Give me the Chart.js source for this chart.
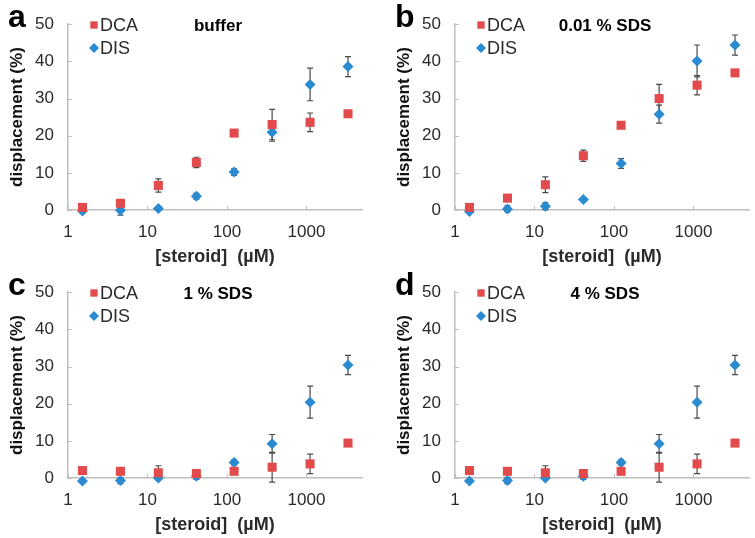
<!DOCTYPE html>
<html>
<head>
<meta charset="utf-8">
<title>displacement vs steroid</title>
<script src="https://cdn.jsdelivr.net/npm/chart.js"></script>
<style>
  html, body { margin: 0; padding: 0; background: #fff; }
  body { width: 755px; height: 538px; position: relative; overflow: hidden; }
  canvas { position: absolute; }
</style>
</head>
<body>
<canvas id="pa" width="377" height="268" style="left:0;top:0"></canvas>
<canvas id="pb" width="377" height="268" style="left:387px;top:0"></canvas>
<canvas id="pc" width="377" height="268" style="left:0;top:268px"></canvas>
<canvas id="pd" width="377" height="268" style="left:387px;top:268px"></canvas>
<script>
// steroid concentrations (µM), 3-fold dilution series
const dose = [1.52, 4.57, 13.7, 41.2, 123, 370, 1111, 3333];
const xTickValues = [1, 10, 100, 1000];
const seriesNames = ["DCA", "DIS"];

// panel a: buffer
const aDCA = [0.7, 1.8, 6.6, 12.8, 20.7, 23.0, 23.6, 25.9];
const aDCAerr = [0.3, 0.4, 1.8, 1.4, 0.5, 4.1, 2.5, 0.7];
const aDIS = [-0.3, -0.1, 0.4, 3.7, 10.2, 20.9, 33.8, 38.6];
const aDISerr = [0.4, 1.3, 0.5, 0.8, 0.9, 2.4, 4.4, 2.7];

// panel b: 0.01 % SDS
const bDCA = [0.7, 3.2, 6.8, 14.6, 22.8, 30.0, 33.6, 36.9];
const bDCAerr = [0.3, 0.8, 2.1, 1.5, 0.4, 3.8, 2.6, 0.8];
const bDIS = [-0.4, 0.3, 1.0, 2.8, 12.5, 25.8, 40.1, 44.4];
const bDISerr = [0.3, 0.8, 0.9, 0.5, 1.3, 2.4, 4.3, 2.7];

// panel c: 1 % SDS
const cDCA = [2.0, 1.8, 1.4, 1.2, 1.8, 2.9, 3.8, 9.4];
const cDCAerr = [0.4, 0.5, 1.9, 0.8, 0.5, 4.0, 2.6, 0.7];
const cDIS = [-0.8, -0.7, 0.0, 0.5, 4.2, 9.2, 20.4, 30.4];
const cDISerr = [0.3, 0.8, 0.4, 0.9, 0.7, 2.5, 4.3, 2.6];

// panel d: 4 % SDS
const dDCA = [2.0, 1.8, 1.4, 1.2, 1.8, 2.9, 3.8, 9.4];
const dDCAerr = [0.4, 0.5, 1.9, 0.8, 0.5, 4.0, 2.6, 0.7];
const dDIS = [-0.8, -0.7, 0.0, 0.5, 4.2, 9.2, 20.4, 30.4];
const dDISerr = [0.3, 0.8, 0.4, 0.9, 0.7, 2.5, 4.3, 2.6];

const RED = "#E24A4B";
const BLUE = "#2A8BD0";
const AXIS = "#BFBFBF";
const TEXT = "#2a2a2a";
const FONT = "'Liberation Sans', Arial, sans-serif";

// error bars drawn behind the markers
const errorBars = {
  id: "errorBars",
  beforeDatasetsDraw(chart) {
    const ctx = chart.ctx;
    const xs = chart.scales.x, ys = chart.scales.y;
    ctx.save();
    ctx.strokeStyle = "#4a4a4a";
    ctx.lineWidth = 1.2;
    chart.data.datasets.forEach(ds => {
      ds.data.forEach((p, i) => {
        const e = ds.errors[i];
        const x = xs.getPixelForValue(p.x);
        const y1 = ys.getPixelForValue(p.y + e);
        const y2 = ys.getPixelForValue(p.y - e);
        ctx.beginPath();
        ctx.moveTo(x, y1); ctx.lineTo(x, y2);
        ctx.moveTo(x - 3, y1); ctx.lineTo(x + 3, y1);
        ctx.moveTo(x - 3, y2); ctx.lineTo(x + 3, y2);
        ctx.stroke();
      });
    });
    ctx.restore();
  }
};

// panel letter, condition label, legend and small inside tick marks
const panelDecor = {
  id: "panelDecor",
  afterDraw(chart, args, opts) {
    const ctx = chart.ctx;
    const area = chart.chartArea;
    const xs = chart.scales.x, ys = chart.scales.y;
    ctx.save();
    // tick marks
    ctx.strokeStyle = AXIS;
    ctx.lineWidth = 1;
    ys.ticks.forEach(t => {
      const y = Math.round(ys.getPixelForValue(t.value)) + 0.5;
      ctx.beginPath(); ctx.moveTo(area.left, y); ctx.lineTo(area.left + 4, y); ctx.stroke();
    });
    xs.ticks.forEach(t => {
      const x = Math.round(xs.getPixelForValue(t.value)) + 0.5;
      ctx.beginPath(); ctx.moveTo(x, area.bottom); ctx.lineTo(x, area.bottom - 4); ctx.stroke();
    });
    // letter
    ctx.fillStyle = "#000";
    ctx.textBaseline = "alphabetic";
    ctx.textAlign = "left";
    ctx.font = "bold 32px " + FONT;
    ctx.fillText(opts.letter, 8, 27);
    // condition
    ctx.font = "bold 17px " + FONT;
    ctx.textAlign = "center";
    ctx.textBaseline = "middle";
    ctx.fillText(opts.condition, 218, 26);
    // legend
    ctx.font = "18px " + FONT;
    ctx.textAlign = "left";
    chart.data.datasets.forEach((ds, i) => {
      const cy = 25 + i * 23;
      ctx.fillStyle = ds.backgroundColor;
      Chart.helpers.drawPoint(ctx, {
        pointStyle: ds.pointStyle,
        radius: ds.pointStyle === "rect" ? 5.2 : 5,
        rotation: 0,
        borderWidth: 0
      }, 94, cy);
      ctx.fillStyle = TEXT;
      ctx.fillText(ds.label, 100, cy + 1);
    });
    ctx.restore();
  }
};

function makePanel(id, letter, condition, dca, dcaErr, dis, disErr) {
  const toPts = arr => arr.map((v, i) => ({ x: dose[i], y: v }));
  return new Chart(document.getElementById(id), {
    type: "scatter",
    data: {
      datasets: [
        {
          label: seriesNames[0],
          data: toPts(dca),
          errors: dcaErr,
          pointStyle: "rect",
          pointRadius: 6.4,
          pointHoverRadius: 6.4,
          backgroundColor: RED,
          borderColor: RED,
          borderWidth: 0,
          clip: false
        },
        {
          label: seriesNames[1],
          data: toPts(dis),
          errors: disErr,
          pointStyle: "rectRot",
          pointRadius: 5.5,
          pointHoverRadius: 5.5,
          backgroundColor: BLUE,
          borderColor: BLUE,
          borderWidth: 0,
          clip: false
        }
      ]
    },
    options: {
      responsive: false,
      animation: false,
      devicePixelRatio: 1,
      layout: { padding: { left: 0, top: 19, right: 15, bottom: 0 } },
      plugins: {
        legend: { display: false },
        tooltip: { enabled: false },
        panelDecor: { letter, condition }
      },
      scales: {
        x: {
          type: "logarithmic",
          min: 1,
          max: 5000,
          afterFit: s => { s.height = 58; },
          afterBuildTicks: s => { s.ticks = xTickValues.map(v => ({ value: v })); },
          grid: { display: true, drawOnChartArea: false, drawTicks: false, color: AXIS },
          border: { display: true, color: AXIS, width: 1.5 },
          ticks: {
            color: TEXT,
            padding: 12,
            font: { family: FONT, size: 17 },
            autoSkip: false,
            maxRotation: 0,
            callback: v => String(v)
          },
          title: {
            display: true,
            text: "[steroid]  (µM)",
            color: TEXT,
            padding: { top: 0, bottom: 0 },
            font: { family: FONT, size: 18, weight: "bold" }
          }
        },
        y: {
          min: 0,
          max: 50,
          afterFit: s => { s.width = 68; },
          grid: { display: true, drawOnChartArea: false, drawTicks: false, color: AXIS },
          border: { display: true, color: AXIS, width: 1.5 },
          ticks: {
            stepSize: 10,
            color: TEXT,
            padding: 14,
            font: { family: FONT, size: 17 }
          },
          title: {
            display: true,
            text: "displacement (%)",
            color: "#111",
            padding: { top: 7, bottom: 0 },
            font: { family: FONT, size: 17, weight: "bold" }
          }
        }
      }
    },
    plugins: [errorBars, panelDecor]
  });
}

makePanel("pa", "a", "buffer", aDCA, aDCAerr, aDIS, aDISerr);
makePanel("pb", "b", "0.01 % SDS", bDCA, bDCAerr, bDIS, bDISerr);
makePanel("pc", "c", "1 % SDS", cDCA, cDCAerr, cDIS, cDISerr);
makePanel("pd", "d", "4 % SDS", dDCA, dDCAerr, dDIS, dDISerr);
</script>
</body>
</html>
